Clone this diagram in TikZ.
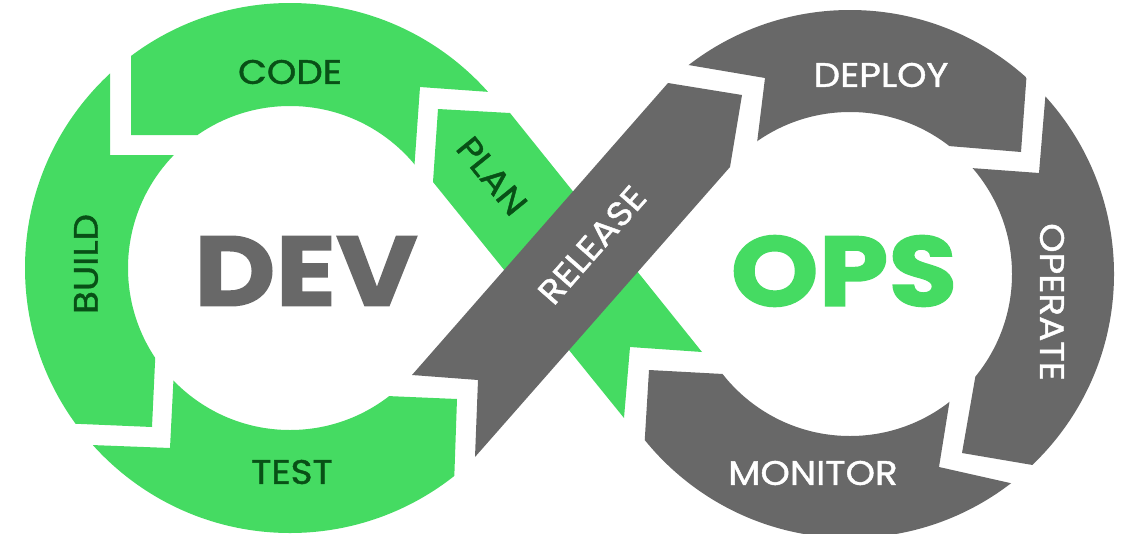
\documentclass[tikz,border=0pt]{standalone}
\usepackage{fontspec}
\setmainfont{Poppins}
\newfontfamily\lblfont{Poppins}[FakeStretch=1.1, FakeBold=1.2]
\newfontfamily\bigfont{Poppins}[FakeStretch=1.13, FakeBold=1.5]
\definecolor{devgreen}{RGB}{69,219,98}
\definecolor{devgrey}{RGB}{104,104,104}
\definecolor{darkgreen}{RGB}{8,80,22}
\tikzset{
  ringfill/.style={even odd rule},
  lbl/.style={inner sep=0pt, font=\lblfont\fontsize{34}{34}\selectfont},
  big/.style={inner sep=0pt, font=\bigfont\fontsize{99}{99}\selectfont\bfseries},
}
\begin{document}
\begin{tikzpicture}[x=1pt,y=-1pt]
\useasboundingbox (0,0) rectangle (1132,533);
% ---------- left ring (DEV) ----------
% CODE
\begin{scope}
\clip (560,97) -- (420,87) -- (412,200) -- (290,268) -- (240,135) -- (131,135) -- (131,-60) -- (290,-100) -- (560,-60) -- cycle;
\fill[devgreen, ringfill] (290,268) circle[radius=265pt] (290,268) circle[radius=162pt];
\end{scope}
% BUILD
\begin{scope}
\clip (110,-40) -- (110,155) -- (220,155) -- (290,268) -- (157,320) -- (152,427) -- (-60,418) -- (-100,268) -- (-60,-40) -- cycle;
\fill[devgreen, ringfill] (290,268) circle[radius=265pt] (290,268) circle[radius=162pt];
\end{scope}
% TEST
\begin{scope}
\clip (-40,440) -- (170,448) -- (176,330) -- (290,268) -- (340,394) -- (457,399) -- (450,600) -- (290,650) -- (-40,600) -- cycle;
\fill[devgreen, ringfill] (290,268) circle[radius=265pt] (290,268) circle[radius=162pt];
\end{scope}
% ---------- right ring (OPS) ----------
% DEPLOY
\begin{scope}
\clip (600,50) -- (765,78) -- (750,200) -- (850,274) -- (900,142) -- (1021,152) -- (1035,-40) -- (850,-100) -- (600,-60) -- cycle;
\fill[devgrey, ringfill] (850,274) circle[radius=264pt] (850,274) circle[radius=162pt];
\end{scope}
% OPERATE
\begin{scope}
\clip (1055,-20) -- (1039,173) -- (930,165) -- (850,274) -- (980,350) -- (962,453) -- (1150,485) -- (1200,274) -- (1200,-20) -- cycle;
\fill[devgrey, ringfill] (850,274) circle[radius=264pt] (850,274) circle[radius=162pt];
\end{scope}
% MONITOR
\begin{scope}
\clip (1130,510) -- (939,467) -- (957,355) -- (850,274) -- (760,376) -- (649,370) -- (635,600) -- (850,650) -- (1130,650) -- cycle;
\fill[devgrey, ringfill] (850,274) circle[radius=264pt] (850,274) circle[radius=162pt];
\end{scope}
% ---------- crossing strips ----------
\fill[devgreen] (438,109) -- (510,113) -- (702,352) -- (630,347) -- (624,418) -- (433,182) -- cycle;
\fill[devgrey] (412,375) -- (668,83) -- (742,95) -- (730,167) -- (475,457) -- (478,380) -- cycle;
% ---------- labels ----------
\node[lbl, text=darkgreen] (code) at (290,72) {CODE};
\node[lbl, text=darkgreen, rotate=90] (build) at (86,264) {BUILD};
\node[lbl, text=darkgreen] (test) at (292,472) {TEST};
\node[lbl, text=darkgreen, rotate=-51] (plan) at (492,176) {PLAN};
\node[lbl, text=white, rotate=48.7] (release) at (592,245) {RELEASE};
\node[lbl, text=white] (deploy) at (881,75) {DEPLOY};
\node[lbl, text=white, rotate=-90] (operate) at (1052,302) {OPERATE};
\node[lbl, text=white] (monitor) at (813,473) {MONITOR};
\node[big, text=devgrey] (dev) at (306,271) {DEV};
\node[big, text=devgreen] (ops) at (844,271) {OPS};
\end{tikzpicture}
\end{document}
